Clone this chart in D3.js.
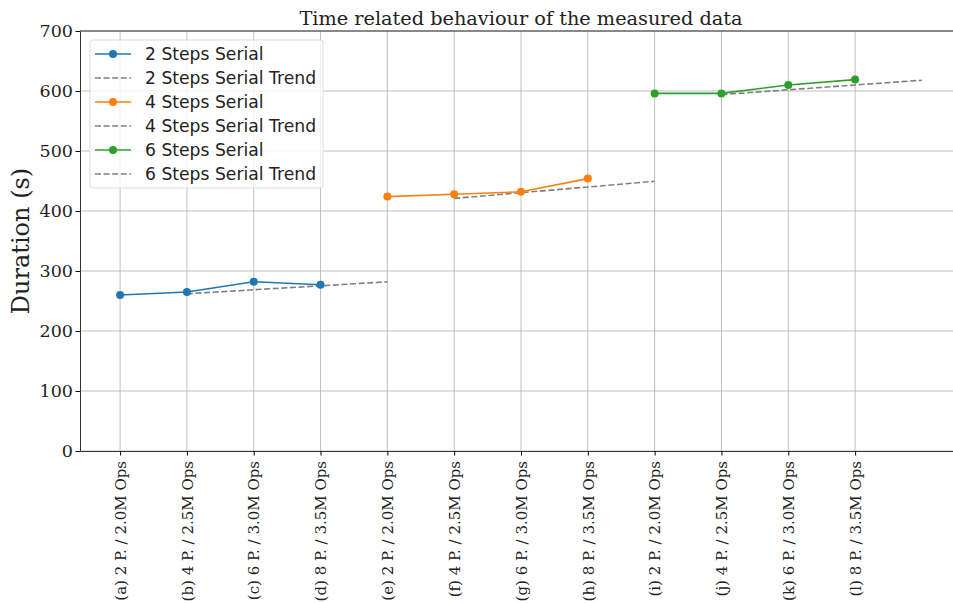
<!DOCTYPE html>
<html>
<head>
<meta charset="utf-8">
<script src="https://cdn.jsdelivr.net/npm/d3@7"></script>
<style>
  body { margin: 0; background: #fff; }
  svg { display: block; }
</style>
</head>
<body>
<div id="main"></div>
<script>
// tick labels of the x axis
const categories = [
  '(a) 2 P. / 2.0M Ops', '(b) 4 P. / 2.5M Ops', '(c) 6 P. / 3.0M Ops', '(d) 8 P. / 3.5M Ops',
  '(e) 2 P. / 2.0M Ops', '(f) 4 P. / 2.5M Ops', '(g) 6 P. / 3.0M Ops', '(h) 8 P. / 3.5M Ops',
  '(i) 2 P. / 2.0M Ops', '(j) 4 P. / 2.5M Ops', '(k) 6 P. / 3.0M Ops', '(l) 8 P. / 3.5M Ops'
]
const yTicks = [0, 100, 200, 300, 400, 500, 600, 700]

// measured durations (s), x = index into categories
const serial2 = [[0, 260], [1, 265], [2, 282], [3, 277]]
const serial4 = [[4, 424], [5, 428], [6, 432], [7, 454]]
const serial6 = [[8, 596], [9, 596], [10, 610], [11, 619]]

// trend lines
const trend2 = [[1, 262], [2, 268.7], [3, 275.3], [4, 282]]
const trend4 = [[5, 421], [6, 430.5], [7, 440], [8, 449.5]]
const trend6 = [[9, 594], [10, 602], [11, 610], [12, 618]]

const seriesNames = ['2 Steps Serial', '2 Steps Serial Trend', '4 Steps Serial', '4 Steps Serial Trend', '6 Steps Serial', '6 Steps Serial Trend']

const width = 953
const height = 603
const margin = { left: 80, top: 31, bottom: 152 }

const serif = 'DejaVu Serif'
const sans = 'DejaVu Sans'

const svg = d3.select('#main')
              .append('svg')
              .attr('width', width)
              .attr('height', height)

const x = d3.scaleLinear().domain([-0.6, 12.6]).range([margin.left, 962])
const y = d3.scaleLinear().domain([0, 700]).range([height - margin.bottom, margin.top])

// grid
svg.append('g')
   .selectAll('line')
   .data(d3.range(categories.length))
   .enter()
   .append('line')
   .attr('x1', (d) => x(d)).attr('x2', (d) => x(d))
   .attr('y1', y(0)).attr('y2', y(700))
   .attr('stroke', '#b0b0b0').attr('stroke-width', 0.8)

svg.append('g')
   .selectAll('line')
   .data(yTicks)
   .enter()
   .append('line')
   .attr('x1', x.range()[0]).attr('x2', x.range()[1])
   .attr('y1', (d) => y(d)).attr('y2', (d) => y(d))
   .attr('stroke', '#b0b0b0').attr('stroke-width', 0.8)

// axes
const xAxis = svg.append('g')
   .attr('transform', 'translate(0,' + y(0) + ')')
   .call(d3.axisBottom(x).tickValues(d3.range(categories.length)).tickFormat((d) => categories[d]).tickSize(4.5).tickSizeOuter(0))
xAxis.select('.domain').attr('stroke', '#333')
xAxis.selectAll('text')
     .attr('font-family', serif)
     .attr('font-size', 15)
     .attr('fill', '#222')
     .attr('transform', 'rotate(-90)')
     .attr('text-anchor', 'end')
     .attr('x', -10)
     .attr('y', 0)
     .attr('dy', '0.35em')

const yAxis = svg.append('g')
   .attr('transform', 'translate(' + margin.left + ',0)')
   .call(d3.axisLeft(y).tickValues(yTicks).tickSize(4.5).tickSizeOuter(0))
yAxis.select('.domain').attr('stroke', '#333')
yAxis.selectAll('text')
     .attr('font-family', serif)
     .attr('font-size', 17.5)
     .attr('fill', '#222')
     .attr('x', -7)

// top spine
svg.append('line')
   .attr('x1', x.range()[0]).attr('x2', x.range()[1])
   .attr('y1', y(700)).attr('y2', y(700))
   .attr('stroke', '#333')

// title and y label
svg.append('text')
   .attr('x', 521).attr('y', 25)
   .attr('text-anchor', 'middle')
   .attr('font-family', serif)
   .attr('font-size', 19.3)
   .attr('fill', '#222')
   .text('Time related behaviour of the measured data')

svg.append('text')
   .attr('transform', 'translate(29,' + (y(350)) + ') rotate(-90)')
   .attr('text-anchor', 'middle')
   .attr('font-family', serif)
   .attr('font-size', 24)
   .attr('fill', '#222')
   .text('Duration (s)')

const line = d3.line().x((d) => x(d[0])).y((d) => y(d[1]))

const trends = [trend2, trend4, trend6]
trends.forEach((t) => {
  svg.append('path')
     .datum(t)
     .attr('d', line)
     .attr('fill', 'none')
     .attr('stroke', 'gray')
     .attr('stroke-width', 1.6)
     .attr('stroke-dasharray', '6,2.6')
})

const serials = [[serial2, '#1f77b4'], [serial4, '#ff7f0e'], [serial6, '#2ca02c']]
serials.forEach(([s, c]) => {
  svg.append('path')
     .datum(s)
     .attr('d', line)
     .attr('fill', 'none')
     .attr('stroke', c)
     .attr('stroke-width', 1.6)
  svg.append('g')
     .selectAll('circle')
     .data(s)
     .enter()
     .append('circle')
     .attr('cx', (d) => x(d[0]))
     .attr('cy', (d) => y(d[1]))
     .attr('r', 4)
     .attr('fill', c)
})

// legend
const legendColors = ['#1f77b4', 'gray', '#ff7f0e', 'gray', '#2ca02c', 'gray']
const legend = svg.append('g').attr('id', 'legend')
legend.append('rect')
      .attr('x', 90).attr('y', 40)
      .attr('width', 233).attr('height', 148)
      .attr('rx', 3)
      .attr('fill', 'white').attr('fill-opacity', 0.8)
      .attr('stroke', '#ddd')

const item = legend.selectAll('g.item')
      .data(seriesNames)
      .enter()
      .append('g')
      .attr('class', 'item')
      .attr('transform', (d, i) => 'translate(0,' + (54 + 24 * i) + ')')

item.append('line')
    .attr('x1', 95).attr('x2', 131)
    .attr('stroke', (d, i) => legendColors[i])
    .attr('stroke-width', 1.6)
    .attr('stroke-dasharray', (d, i) => i % 2 ? '6,2.6' : null)

item.filter((d, i) => i % 2 === 0)
    .append('circle')
    .attr('cx', 113).attr('r', 4)
    .attr('fill', (d, i) => legendColors[i * 2])

item.append('text')
    .attr('x', 145)
    .attr('dy', '0.35em')
    .attr('font-family', sans)
    .attr('font-size', 17.2)
    .attr('fill', '#222')
    .text((d) => d)
</script>
</body>
</html>
